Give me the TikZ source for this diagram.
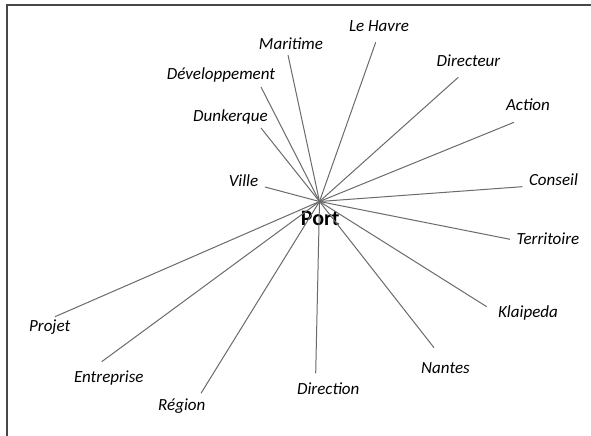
\documentclass[tikz,border=0pt]{standalone}
\usepackage{fontspec}
\setmainfont{Carlito}
\begin{document}
\begin{tikzpicture}[x=1bp,y=-1bp,
  lbl/.style={font=\fontsize{17bp}{19bp}\selectfont\itshape, anchor=base, inner sep=0pt},
  hubtxt/.style={font=\fontsize{22bp}{24bp}\selectfont\bfseries, anchor=base, inner sep=0pt},
  spoke/.style={draw=black!58, line width=1bp},
  frame/.style={draw=black!72, line width=1.5bp}]
\useasboundingbox (0,0) rectangle (591,436);
\fill[white] (0,0) rectangle (591,436);
\draw[frame] (7,436) -- (7,5) -- (591,5);
\coordinate (hub) at (319.5,201.5);
\node[hubtxt] (port) at (320.3,226) {Port};
% labels
\node[lbl] (maritime) at (291,49.3) {Maritime};
\node[lbl] (dev) at (221,80) {Développement};
\node[lbl] (dunk) at (230.5,121.7) {Dunkerque};
\node[lbl] (ville) at (243.5,186.7) {Ville};
\node[lbl] (havre) at (379,31.7) {Le Havre};
\node[lbl] (directeur) at (468.5,66.7) {Directeur};
\node[lbl] (action) at (528,111) {Action};
\node[lbl] (conseil) at (553.5,186) {Conseil};
\node[lbl] (territoire) at (548,245) {Territoire};
\node[lbl] (klaipeda) at (528,317.3) {Klaipeda};
\node[lbl] (nantes) at (445.5,373.3) {Nantes};
\node[lbl] (direction) at (328.3,394) {Direction};
\node[lbl] (region) at (181.8,410) {Région};
\node[lbl] (entreprise) at (108.8,382.7) {Entreprise};
\node[lbl] (projet) at (49.7,331.7) {Projet};
% spoke ends
\coordinate (emaritime) at (288,55);
\coordinate (edev) at (261,87);
\coordinate (edunk) at (261,128);
\coordinate (eville) at (265,187);
\coordinate (ehavre) at (375.7,42.3);
\coordinate (edirecteur) at (458.3,77.3);
\coordinate (eaction) at (514,122.3);
\coordinate (econseil) at (522.3,186.7);
\coordinate (eterritoire) at (510,239.3);
\coordinate (eklaipeda) at (486.7,306.7);
\coordinate (enantes) at (434,347.7);
\coordinate (edirection) at (315.7,373.3);
\coordinate (eregion) at (201,393.3);
\coordinate (eentreprise) at (101.7,361.7);
\coordinate (eprojet) at (55,316.7);
\foreach \e in {emaritime,edev,edunk,eville,ehavre,edirecteur,eaction,econseil,eterritoire,eklaipeda,enantes,edirection,eregion,eentreprise,eprojet}
  \draw[spoke] (hub) -- (\e);
\end{tikzpicture}
\end{document}
